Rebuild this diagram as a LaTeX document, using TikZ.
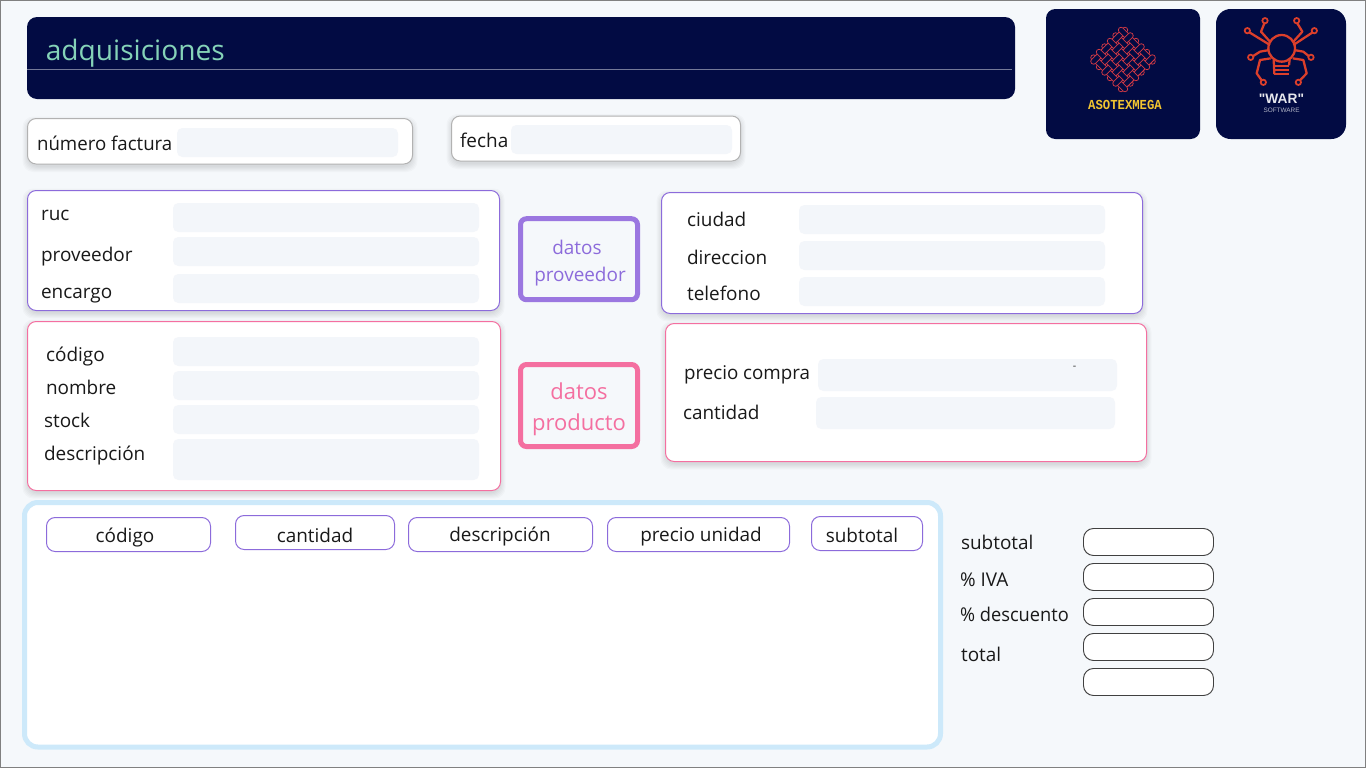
\documentclass[tikz,border=0pt]{standalone}
\usepackage{fontspec}
\setmainfont{Open Sans}
\newfontfamily\monof{Liberation Mono}
\newfontfamily\headf{Liberation Sans}
\usetikzlibrary{calc}
\definecolor{pagebg}{HTML}{F5F8FB}
\definecolor{navy}{HTML}{020B43}
\definecolor{mint}{HTML}{85D3B8}
\definecolor{inputbg}{HTML}{F3F6FA}
\definecolor{purp}{HTML}{8C6BDB}
\definecolor{purpb}{HTML}{9B77E0}
\definecolor{pinkc}{HTML}{F46FA0}
\definecolor{skyb}{HTML}{CDE9FA}
\definecolor{logored}{HTML}{DC3F2B}
\definecolor{weave}{HTML}{D23A45}
\definecolor{logoy}{HTML}{F2C531}
\tikzset{
  txt/.style={anchor=base west,inner sep=0pt,xshift=-.15pt,font=\fontsize{14.2}{17}\selectfont,text=black!90},
  ctxt/.style={anchor=base,inner sep=0pt,font=\fontsize{14.2}{17}\selectfont,text=black!90},
  field/.style={fill=inputbg,draw=none,rounded corners=4pt},
  graycard/.style={fill=white,draw=black!30,line width=.75pt,rounded corners=6.5pt},
  purpcard/.style={fill=white,draw=purp,line width=.75pt,rounded corners=6.5pt},
  pinkcard/.style={fill=white,draw=pinkc,line width=.75pt,rounded corners=6.5pt},
  headcell/.style={fill=white,draw=purp,line width=.75pt,rounded corners=6.5pt},
  totalcell/.style={fill=white,draw=black!75,line width=.7pt,rounded corners=7.5pt},
  tagbox/.style={line width=3.75pt,rounded corners=4.5pt,minimum width=87.75pt,inner sep=0pt,outer sep=0pt,anchor=center},
  leg/.style={draw=logored,line width=1.7pt,line join=round},
  pad/.style={draw=logored,line width=1.3pt,fill=navy},
  bar/.style={draw=weave,line width=.55pt,fill=navy,rounded corners=2.05pt}
}
\newcommand{\softshadow}[4]{%
  \foreach \s in {0,1,2,3,4,5}{%
    \fill[black,opacity=.018,rounded corners=8pt]
      ({#1-\s},{#2+3-\s}) rectangle ({#3+\s},{#4+3+\s});}}
\begin{document}
\begin{tikzpicture}[x=.75pt,y=-.75pt]
\useasboundingbox (0,0) rectangle (1366,768);
\fill[pagebg] (0,0) rectangle (1366,768);
\draw[black!50,line width=.75pt] (.5,.5) rectangle (1365.5,767.5);

% header
\fill[navy,rounded corners=7.5pt] (27,17) rectangle (1015,99);
\draw[white!45!navy,line width=.75pt] (27,69.5) -- (1012,69.5);
\node[anchor=base west,inner sep=0pt,text=mint,font=\fontsize{21.1}{25}\selectfont] (title) at (45.5,60) {adquisiciones};

% logo 1
\fill[navy,rounded corners=7pt] (1046,9) rectangle (1200,139);
\begin{scope}[shift={(1123,59.5)},rotate=45]
  \foreach \k in {-2.5,-1.5,-.5,.5,1.5,2.5}{
    \path[bar] (-25,{\k*7.8-2.75}) rectangle (25,{\k*7.8+2.75});}
  \foreach \k in {-2.5,-1.5,-.5,.5,1.5,2.5}{
    \path[bar] ({\k*7.8-2.75},-25) rectangle ({\k*7.8+2.75},25);}
  \foreach \i/\ii in {-2.5/0,-1.5/1,-.5/2,.5/3,1.5/4,2.5/5}{\foreach \j/\jj in {-2.5/0,-1.5/1,-.5/2,.5/3,1.5/4,2.5/5}{
    \pgfmathparse{int(mod(\ii+\jj,2))}
    \ifnum\pgfmathresult=0
      \fill[navy] ({\i*7.8-3.3},{\j*7.8-2.6}) rectangle ({\i*7.8+3.3},{\j*7.8+2.6});
      \draw[weave,line width=.55pt] ({\i*7.8-3.9},{\j*7.8-2.75}) -- ({\i*7.8+3.9},{\j*7.8-2.75})
        ({\i*7.8-3.9},{\j*7.8+2.75}) -- ({\i*7.8+3.9},{\j*7.8+2.75});
    \fi}}
\end{scope}
\node[anchor=base,inner sep=0pt,text=logoy,yscale=1.12,font=\monof\bfseries\fontsize{9.2}{10}\selectfont] (asotex) at (1125,109) {ASOTEXMEGA};

% logo 2
\fill[navy,rounded corners=11pt] (1216,9) rectangle (1346,139);
\begin{scope}[shift={(1030,0)},x=.25pt,y=-.25pt]
  \draw[leg] (755,145) circle (40);
  \draw[leg] (720,125) -- (693,95) -- (703,70);
  \draw[leg] (790,125) -- (817,95) -- (802,70);
  \draw[leg] (720,135) -- (658,97);
  \draw[leg] (790,135) -- (848,97);
  \draw[leg] (718,150) -- (690,155) -- (668,169);
  \draw[leg] (792,150) -- (820,155) -- (837,169);
  \draw[leg] (722,175) -- (690,180) -- (680,220) -- (695,241);
  \draw[leg] (788,175) -- (820,180) -- (830,220) -- (810,241);
  \foreach \a/\b in {705/62,800/62,652/92,853/92,662/172,843/172,700/247,805/247}
    \draw[pad] (\a,\b) circle (8);
  \draw[leg] (731,178) -- (733,222) (779,178) -- (777,196);
  \draw[leg] (733,197) -- (777,197) (733,210) -- (777,210) (733,222) -- (777,222);
\end{scope}
\node[anchor=base,inner sep=0pt,text=white!90!navy,font=\headf\bfseries\fontsize{10.3}{12}\selectfont] (war) at (1281.5,103) {"WAR"};
\node[anchor=base,inner sep=0pt,text=white!70!navy,font=\headf\fontsize{4.8}{5}\selectfont] (soft) at (1281.5,112.5) {SOFTWARE};

% top fields
\softshadow{27.5}{118.5}{412.5}{164}
\path[graycard] (27.5,118.5) rectangle (412.5,164);
\path[field] (177,128) rectangle (398,157);
\node[txt] (nf) at (37,150) {\addfontfeature{FakeStretch=.985}número factura};
\softshadow{451.5}{116}{740.5}{161}
\path[graycard] (451.5,116) rectangle (740.5,161);
\path[field] (511,125) rectangle (732,154);
\node[txt] (fe) at (460,147) {fecha};

% supplier left
\softshadow{27.5}{190.5}{499.5}{310.5}
\path[purpcard] (27.5,190.5) rectangle (499.5,310.5);
\path[field] (173,203) rectangle (479,232);
\path[field] (173,237) rectangle (479,266);
\path[field] (173,274) rectangle (479,303);
\node[txt] (ruc) at (41,220) {ruc};
\node[txt] (prov) at (41,261) {proveedor};
\node[txt] (enc) at (41,298) {encargo};

% datos proveedor
\node[tagbox,draw=purpb,minimum height=60.75pt] (dprov) at (579,259.2) {};
\node[ctxt,text=purp] (dp1) at (577,254) {datos};
\node[ctxt,text=purp] (dp2) at (580,281) {proveedor};

% supplier right
\softshadow{661.5}{192.5}{1142.5}{313.5}
\path[purpcard] (661.5,192.5) rectangle (1142.5,313.5);
\path[field] (799,205) rectangle (1105,234);
\path[field] (799,241) rectangle (1105,270);
\path[field] (799,277) rectangle (1105,306);
\node[txt] (ciu) at (687,226) {ciudad};
\node[txt] (dir) at (687,264) {direccion};
\node[txt] (tel) at (687,300) {telefono};

% product left
\softshadow{27.5}{321.5}{500.5}{490.5}
\path[pinkcard] (27.5,321.5) rectangle (500.5,490.5);
\path[field] (173,337) rectangle (479,366);
\path[field] (173,371) rectangle (479,400);
\path[field] (173,405) rectangle (479,434);
\path[field] (173,439) rectangle (479,480);
\node[txt] (cod) at (46,361) {código};
\node[txt] (nom) at (46,394) {nombre};
\node[txt] (sto) at (44,427) {stock};
\node[txt] (des) at (44,460) {descripción};

% datos producto
\node[tagbox,draw=pinkc,minimum height=61.5pt] (dprod) at (579,405.5) {};
\node[ctxt,text=pinkc,font=\fontsize{16.5}{20}\selectfont] (dq1) at (579,399) {datos};
\node[ctxt,text=pinkc,font=\fontsize{16.5}{20}\selectfont] (dq2) at (579,430) {producto};

% product right
\softshadow{665.5}{323.5}{1146.5}{461.5}
\path[pinkcard] (665.5,323.5) rectangle (1146.5,461.5);
\path[field] (818,359) rectangle (1117,391);
\path[field] (816,397) rectangle (1115,429);
\node[txt] (pre) at (684,379) {\addfontfeature{FakeStretch=.99}precio compra};
\node[txt] (can) at (683,419) {cantidad};
\node[anchor=base,inner sep=0pt,font=\fontsize{8}{9}\selectfont,text=black!80] (dash) at (1074.5,369) {-};

% table
\path[fill=white,draw=skyb,line width=3.75pt,rounded corners=10pt] (24.5,502.5) rectangle (940.5,747);
\path[headcell] (46.5,517.5) rectangle (210.5,551.5);
\path[headcell] (235.5,515.5) rectangle (394.5,549.5);
\path[headcell] (408.5,517.5) rectangle (592.5,551.5);
\path[headcell] (607.5,517.5) rectangle (789.5,551.5);
\path[headcell] (811.5,516.5) rectangle (922.5,550.5);
\node[ctxt] (h1) at (125,542) {código};
\node[ctxt] (h2) at (315,542) {cantidad};
\node[ctxt] (h3) at (500,541) {descripción};
\node[ctxt] (h4) at (701,541) {precio unidad};
\node[ctxt] (h5) at (862,542) {subtotal};

% totals
\node[txt] (t1) at (961,549) {subtotal};
\node[txt] (t2) at (960,586) {\% IVA};
\node[txt] (t3) at (960,621) {\addfontfeature{FakeStretch=.965}\% descuento};
\node[txt] (t4) at (961,661) {total};
\foreach \yy in {528.5,563.5,598.5,633.5,668.5}
  \path[totalcell] (1083.5,\yy) rectangle (1213.5,\yy+27);
\end{tikzpicture}
\end{document}
